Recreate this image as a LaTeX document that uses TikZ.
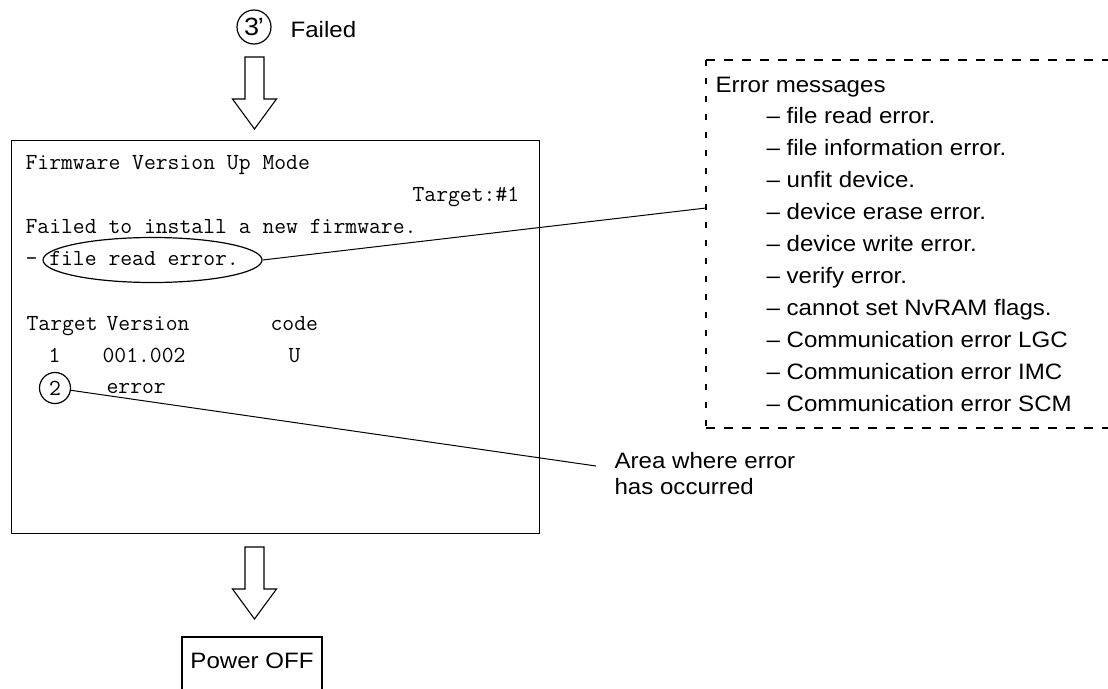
\documentclass[tikz,border=0pt]{standalone}
\usepackage{fontspec}
\usetikzlibrary{shapes.geometric}
\newfontfamily\hv[FakeStretch=1.08]{Liberation Sans}
\newcommand{\sansfnt}{\hv\fontsize{22.3}{26}\selectfont}
\newcommand{\bigsansfnt}{\hv\fontsize{25}{26}\selectfont}
\newcommand{\monofnt}{\ttfamily\fontsize{23}{32}\selectfont}
\tikzset{
  x=1pt, y=-1pt,
  every path/.style={line width=1.2pt},
  mtext/.style={anchor=base west, inner sep=0pt, font=\monofnt},
  stext/.style={anchor=base west, inner sep=0pt, font=\sansfnt},
  downarrow/.pic={\draw[line width=1.1pt, line join=miter] (-9.5,0) -- (-9.5,42) -- (-22,42) -- (0,72) -- (22,42) -- (9.5,42) -- (9.5,0) -- cycle;},
  hdash/.style={dash pattern=on 9pt off 9pt},
  vdash/.style={dash pattern=on 6pt off 12pt}
}
\begin{document}
\begin{tikzpicture}
\useasboundingbox (0,0) rectangle (1108,688);

% step label
\node[circle, draw, minimum size=34pt, inner sep=0pt, font=\bigsansfnt] (c3) at (254,27) {3\kern-1.5pt’};
\node[stext] (failed) at (290,37) {Failed};

% block arrows
\pic at (254.5,57) {downarrow};
\pic at (254.5,547) {downarrow};

% screen
\node[draw, anchor=north west, minimum width=528pt, minimum height=393pt, inner sep=0pt] (screen) at (10.7,140) {};
\node[mtext] (l1) at (25,169) {Firmware Version Up Mode};
\node[mtext] (l2) at (412,201) {Target:\#1};
\node[mtext] (l3) at (25,233) {Failed to install a new firmware.};
\node[mtext] (l4) at (25,265) {- file read error.};
\node[mtext] (h1) at (26,330) {Target};
\node[mtext] (h2) at (106,330) {Version};
\node[mtext] (h3) at (270,330) {code};
\node[mtext] (r1a) at (48,362) {1};
\node[mtext] (r1b) at (102,362) {001.002};
\node[mtext] (r1c) at (288,362) {U};
\node[mtext] (r2b) at (106,393) {error};
\node[circle, draw, minimum size=31pt, inner sep=0pt, font=\monofnt] (c2) at (55,388) {2};
\node[ellipse, draw, minimum width=219pt, minimum height=45pt, inner sep=0pt] (ell) at (152.5,260) {};

% error messages box (open at the right)
\coordinate (bxtl) at (706,60);
\coordinate (bxbl) at (706,428);
\coordinate (bxtr) at (1115,60);
\coordinate (bxbr) at (1115,428);
\draw[hdash] (bxtl) -- (bxtr);
\draw[hdash] (bxbl) -- (bxbr);
\draw[vdash] (bxtl) -- (bxbl);
\node[stext] (mh) at (715,92) {Error messages};
\foreach \t [count=\i] in {file read error., file information error., unfit device., device erase error., device write error., verify error., cannot set NvRAM flags., Communication error LGC, Communication error IMC, Communication error SCM}
  \node[stext] (m\i) at (766,{92+31.97*\i}) {– \t};

% leader lines
\coordinate (msgpt) at (706,208);
\draw[line width=1pt] (ell.east) -- (msgpt);
\node[stext] (area1) at (614,468) {Area where error};
\node[stext] (area2) at (614,494) {has occurred};
\coordinate (areapt) at (596,466);
\draw[line width=1pt] (c2) -- (areapt);

% power off
\node[draw, anchor=base, minimum width=140pt, text height=31pt, text depth=24pt, inner sep=0pt, font=\sansfnt] (pwr) at (252,668) {Power OFF};
\end{tikzpicture}
\end{document}
